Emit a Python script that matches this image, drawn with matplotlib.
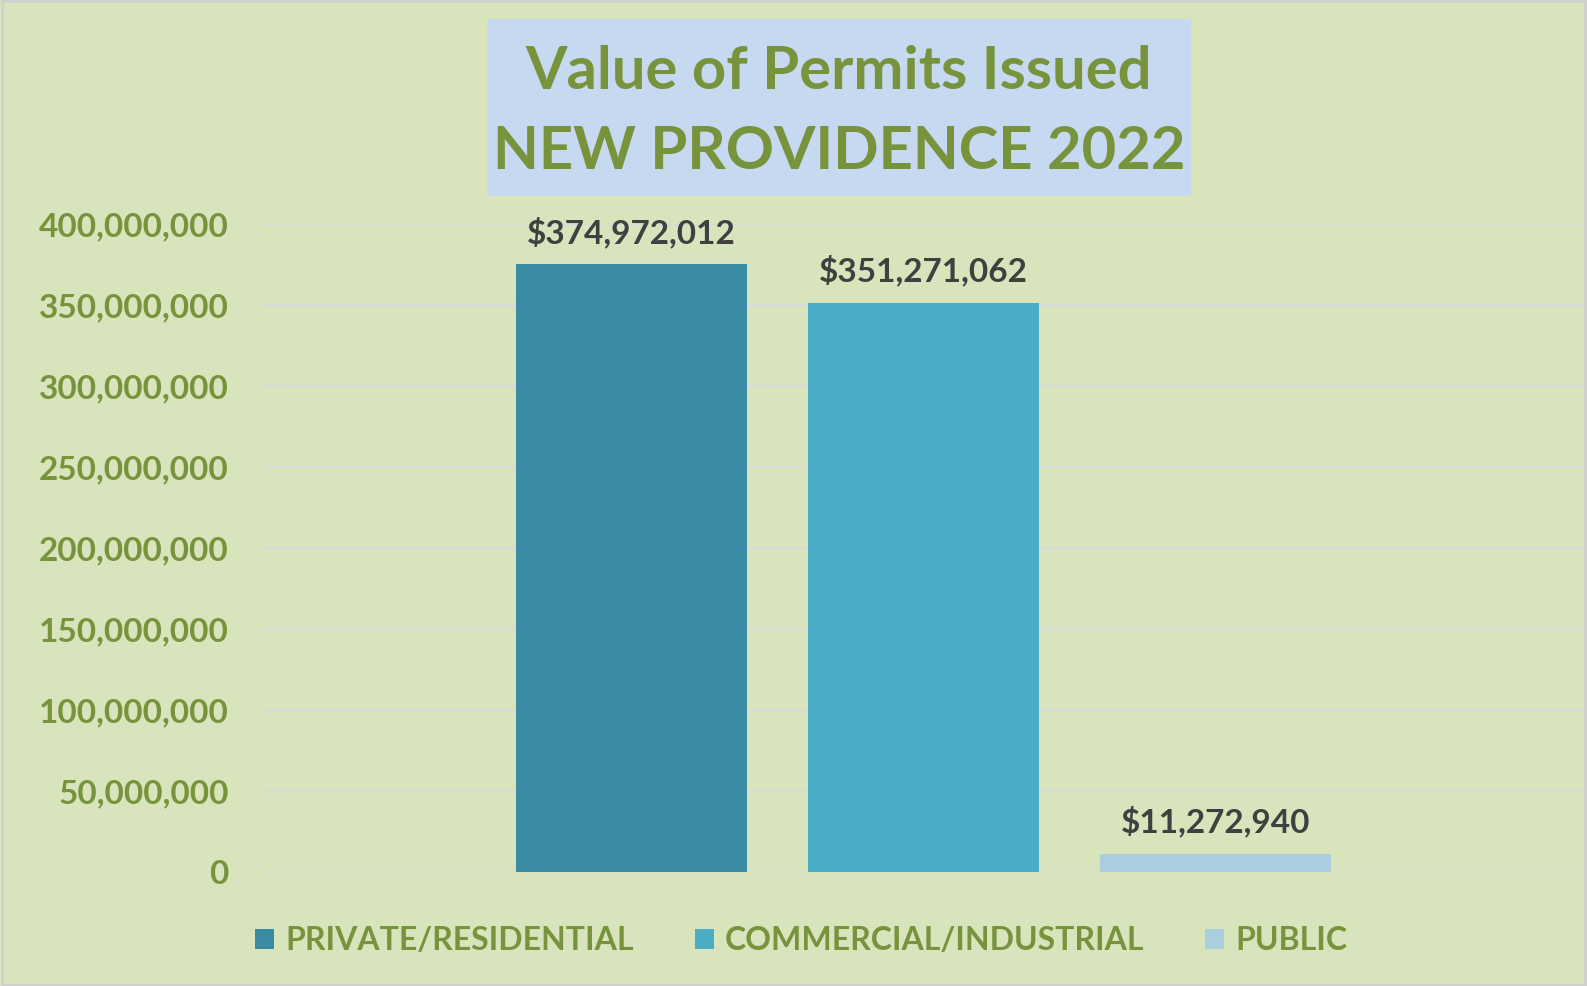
import matplotlib.pyplot as plt
from matplotlib.patches import Rectangle
from matplotlib.ticker import FuncFormatter

# data
categories = ['PRIVATE/RESIDENTIAL', 'COMMERCIAL/INDUSTRIAL', 'PUBLIC']
values = [374972012, 351271062, 11272940]
bar_colors = ['#3A8BA4', '#4BACC6', '#A9CFDF']
y_ticks = [0, 50000000, 100000000, 150000000, 200000000, 250000000, 300000000, 350000000, 400000000]

BG = '#D8E4BC'
OLIVE = '#77933C'
LABEL_GRAY = '#404040'

plt.rcParams['font.family'] = ['Lato', 'DejaVu Sans']
plt.rcParams['font.weight'] = 'bold'

fig = plt.figure(figsize=(15.87, 9.86), dpi=100, facecolor=BG)
ax = fig.add_axes([0.166, 0.1156, 0.832, 0.6574])
ax.set_facecolor(BG)

x = list(range(len(values)))
for i, (cat, val, col) in enumerate(zip(categories, values, bar_colors)):
    ax.bar(x[i], val, width=0.79, color=col, label=cat, zorder=3)
    ax.text(x[i], val + 10000000, f"${val:,}", ha='center', va='bottom',
            fontsize=24, fontweight='bold', color=LABEL_GRAY)

ax.set_xlim(-1.26, 3.26)
ax.set_ylim(0, 400000000)
ax.set_yticks(y_ticks)
ax.yaxis.set_major_formatter(FuncFormatter(lambda v, p: f"{int(v):,}"))
ax.set_xticks([])
ax.tick_params(axis='y', length=0, pad=25, labelsize=24, labelcolor=OLIVE)
for lbl in ax.get_yticklabels():
    lbl.set_fontweight('bold')
ax.grid(axis='y', color='#D9D9D9', lw=1.5, zorder=0)
for spine in ('top', 'right', 'bottom', 'left'):
    ax.spines[spine].set_visible(False)

# title box
fig.patches.append(Rectangle((487 / 1587, 1 - 196 / 986), (1191 - 487) / 1587, (196 - 19) / 986,
                             transform=fig.transFigure, facecolor='#C6D9F1', edgecolor='none', zorder=0))
fig.text(839 / 1587, 1 - 112 / 986, 'Value of Permits Issued\nNEW PROVIDENCE 2022', ha='center', va='center',
         multialignment='center', fontsize=43, fontweight='bold', color=OLIVE, linespacing=1.6)

# border
fig.patches.append(Rectangle((0.001, 0.001), 0.998, 0.998, transform=fig.transFigure,
                             facecolor='none', edgecolor='#D0D0D0', lw=2))

leg = fig.legend(loc='center', bbox_to_anchor=(0.505, 1 - 941 / 986), ncol=3, frameon=False,
                 handlelength=0.6, handleheight=0.6, handletextpad=0.35, columnspacing=1.9,
                 prop={'size': 23, 'weight': 'bold'})
for t in leg.get_texts():
    t.set_color(OLIVE)

plt.savefig('out.png', dpi=100, facecolor=BG)
